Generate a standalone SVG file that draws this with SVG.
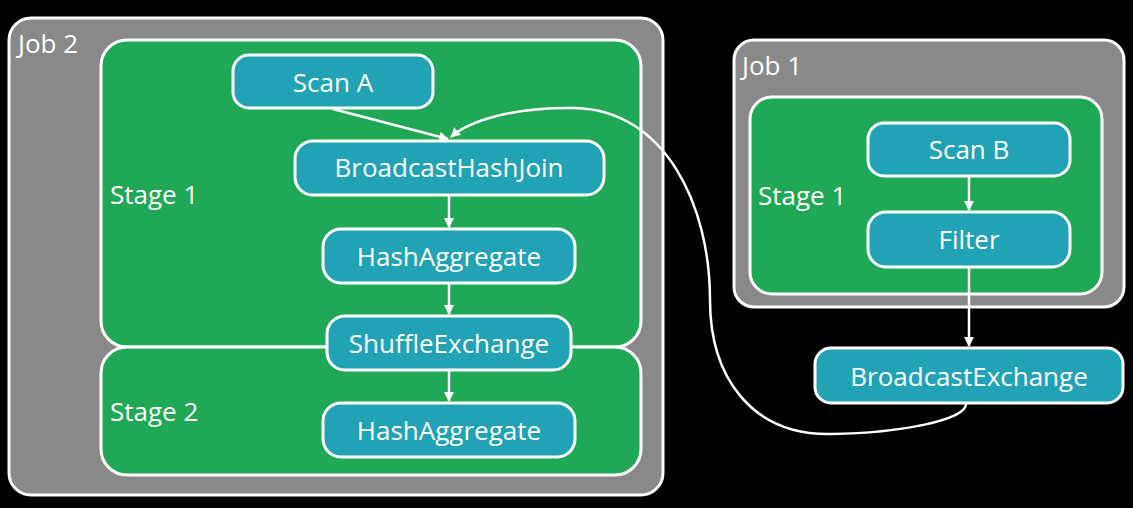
<svg xmlns="http://www.w3.org/2000/svg" width="1133" height="508" viewBox="0 0 1133 508">
<defs>
<style>
.job{fill:#898989;stroke:#fff;stroke-width:3}
.stage{fill:#1fa855;stroke:#fff;stroke-width:3}
.op{fill:#21a2b5;stroke:#fff;stroke-width:3}
text{font-family:"Open Sans","Noto Sans",sans-serif;fill:#fff;font-size:26px}
.c{text-anchor:middle}
.edge{fill:none;stroke:#fff;stroke-width:2.5}
</style>
<marker id="ah" viewBox="0 0 10 10" refX="9" refY="5" markerWidth="4" markerHeight="4" orient="auto" markerUnits="strokeWidth">
<path d="M0,0 L10,5 L0,10 z" fill="#fff"/>
</marker>
</defs>
<rect width="1133" height="508" fill="#000"/>
<g id="job2">
<rect class="job" x="9" y="18" width="654" height="477" rx="22"/>
<text x="18" y="53">Job 2</text>
</g>
<g id="job2-stage1">
<rect class="stage" x="101" y="40" width="540" height="307" rx="26"/>
<text x="110" y="204">Stage 1</text>
</g>
<g id="job2-stage2">
<rect class="stage" x="101" y="347" width="540" height="128" rx="26"/>
<text x="110" y="421">Stage 2</text>
</g>
<g id="job1">
<rect class="job" x="734" y="40" width="390" height="267" rx="20"/>
<text x="742" y="75">Job 1</text>
</g>
<g id="job1-stage1">
<rect class="stage" x="750" y="97" width="352" height="197" rx="22"/>
<text x="758" y="205">Stage 1</text>
</g>
<g id="scanA">
<rect class="op" x="233" y="55" width="200" height="53" rx="16"/>
<text class="c" x="333" y="92">Scan A</text>
</g>
<g id="bhj">
<rect class="op" x="295" y="141" width="309" height="54" rx="18"/>
<text class="c" x="449" y="177">BroadcastHashJoin</text>
</g>
<g id="hashagg1">
<rect class="op" x="323" y="229" width="252" height="54" rx="18"/>
<text class="c" x="449" y="266">HashAggregate</text>
</g>
<g id="shuffle">
<rect class="op" x="327" y="316" width="244" height="54" rx="18"/>
<text class="c" x="449" y="353">ShuffleExchange</text>
</g>
<g id="hashagg2">
<rect class="op" x="323" y="403" width="252" height="54" rx="18"/>
<text class="c" x="449" y="440">HashAggregate</text>
</g>
<g id="scanB">
<rect class="op" x="868" y="123" width="202" height="53" rx="16"/>
<text class="c" x="969" y="159">Scan B</text>
</g>
<g id="filter">
<rect class="op" x="868" y="212" width="202" height="55" rx="18"/>
<text class="c" x="969" y="249">Filter</text>
</g>
<g id="bex">
<rect class="op" x="815" y="348" width="308" height="55" rx="16"/>
<text class="c" x="969" y="386">BroadcastExchange</text>
</g>
<g id="connectors">
<path class="edge" d="M333,109 L448,139" marker-end="url(#ah)"/>
<path class="edge" d="M449,196 L449,227" marker-end="url(#ah)"/>
<path class="edge" d="M449,284 L449,314" marker-end="url(#ah)"/>
<path class="edge" d="M449,371 L449,401" marker-end="url(#ah)"/>
<path class="edge" d="M969,177 L969,210" marker-end="url(#ah)"/>
<path class="edge" d="M969,268 L969,346" marker-end="url(#ah)"/>
<path class="edge" d="M966,404 C966,420 900,433 832,434 C750,436 710,375 710,300 C710,205 665,110 575,108 C515,107 470,120 451,137" marker-end="url(#ah)"/>
</g>
</svg>
